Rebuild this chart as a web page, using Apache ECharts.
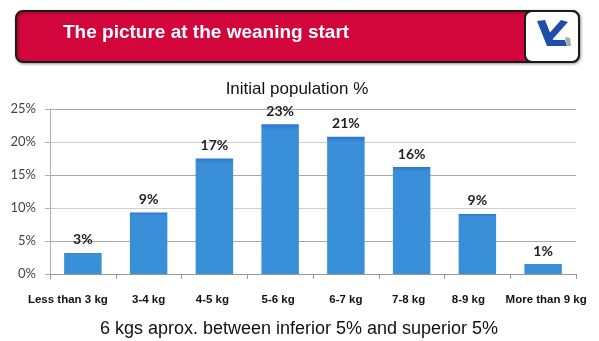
<!DOCTYPE html>
<html>
<head>
<meta charset="utf-8">
<script src="https://cdn.jsdelivr.net/npm/echarts@6/dist/echarts.min.js"></script>
<style>
html,body{margin:0;padding:0;background:#fff;}
#chart{width:599px;height:341px;}
</style>
</head>
<body>
<div id="chart"></div>
<script>
var categories = ['Less than 3 kg', '3-4 kg', '4-5 kg', '5-6 kg', '6-7 kg', '7-8 kg', '8-9 kg', 'More than 9 kg'];
var barHeights = [3.2, 9.3, 17.5, 22.7, 20.8, 16.2, 9.1, 1.5];
var barLabels = ['3%', '9%', '17%', '23%', '21%', '16%', '9%', '1%'];
var yTicks = [0, 5, 10, 15, 20, 25];
var headerTitle = 'The picture at the weaning start';
var chartTitle = 'Initial population %';
var footnote = '6 kgs aprox. between inferior 5% and superior 5%';

// layout only: horizontal nudge (px) of each category label
var labelShift = [-15, 0, -2, -2, 0, -3, -9, 3];

var chart = echarts.init(document.getElementById('chart'), null, {renderer: 'canvas'});

var catData = categories.map(function (c, i) {
  var s = labelShift[i];
  var pad = s < 0 ? [0, -2 * s, 0, 0] : [0, 0, 0, 2 * s];
  return {value: c, textStyle: {padding: pad}};
});

var option = {
  backgroundColor: '#ffffff',
  animation: false,
  title: [{
    text: chartTitle,
    left: 292, top: 76, textAlign: 'center',
    textStyle: {fontFamily: 'Liberation Sans', fontSize: 17, fontWeight: 'normal', color: '#111'}
  }, {
    text: footnote,
    left: 294, top: 315, textAlign: 'center',
    textStyle: {fontFamily: 'Liberation Sans', fontSize: 18, fontWeight: 'normal', color: '#111'}
  }],
  grid: {left: 50, right: 23, top: 109, bottom: 67, containLabel: false},
  xAxis: {
    type: 'category',
    data: catData,
    axisLine: {show: true, lineStyle: {color: '#9a9a9a', width: 1}},
    axisTick: {show: true, length: 5, lineStyle: {color: '#9a9a9a'}},
    axisLabel: {
      interval: 0, hideOverlap: false, margin: 20,
      fontFamily: 'Liberation Sans', fontSize: 11.5, fontWeight: 'bold', color: '#111'
    },
    splitLine: {show: false}
  },
  yAxis: {
    type: 'value',
    min: yTicks[0], max: yTicks[yTicks.length - 1], interval: yTicks[1] - yTicks[0],
    axisLine: {show: true, lineStyle: {color: '#b0b0b0'}},
    axisTick: {show: true, length: 5, lineStyle: {color: '#b0b0b0'}},
    axisLabel: {
      margin: 14, formatter: '{value}%',
      fontFamily: 'Lato', fontSize: 13, color: '#444'
    },
    splitLine: {show: true, lineStyle: {color: ['#b8b8b8', '#a8a8a8', '#cfcfcf', '#a8a8a8', '#cfcfcf', '#a8a8a8'], width: 1}}
  },
  series: [{
    type: 'bar',
    data: barHeights,
    barWidth: '57%',
    itemStyle: {
      color: {
        type: 'linear', x: 0, y: 0, x2: 0, y2: 1,
        colorStops: [
          {offset: 0, color: '#2a75cf'},
          {offset: 0.04, color: '#3a8fd8'},
          {offset: 1, color: '#3790d8'}
        ]
      }
    },
    label: {
      show: true, position: 'top', distance: 6,
      formatter: function (p) { return barLabels[p.dataIndex]; },
      fontFamily: 'Lato', fontWeight: 'bold', fontSize: 14, color: '#222'
    }
  }],
  graphic: [
    {
      type: 'rect', left: 15, top: 10,
      shape: {width: 563, height: 51, r: 7},
      style: {fill: '#d2063c', stroke: '#1a1a1a', lineWidth: 2,
        shadowBlur: 3, shadowColor: 'rgba(0,0,0,0.35)', shadowOffsetX: 1, shadowOffsetY: 1},
      z: 10
    },
    {
      type: 'rect', left: 524, top: 10,
      shape: {width: 54, height: 51, r: 7},
      style: {fill: '#ffffff', stroke: '#1a1a1a', lineWidth: 2},
      z: 11
    },
    {
      type: 'text', left: 63, top: 23,
      style: {text: headerTitle, fill: '#ffffff', font: 'bold 19px "Liberation Sans", Arial, sans-serif'},
      z: 12
    },
    {
      type: 'polygon', z: 12,
      shape: {points: [[537, 21], [545, 20], [553, 40], [547, 46]]},
      style: {fill: '#1f4fa8'}
    },
    {
      type: 'polygon', z: 12,
      shape: {points: [[561, 20], [568, 22], [551, 41], [546, 37]]},
      style: {fill: '#1f4fa8'}
    },
    {
      type: 'polygon', z: 12,
      shape: {points: [[549, 40], [565, 40], [567, 46], [547, 46]]},
      style: {fill: '#1f4fa8'}
    },
    {
      type: 'polygon', z: 12,
      shape: {points: [[565, 37], [570, 38], [571, 46], [567, 46]]},
      style: {fill: '#a8a8a8'}
    }
  ]
};
chart.setOption(option);
</script>
</body>
</html>
